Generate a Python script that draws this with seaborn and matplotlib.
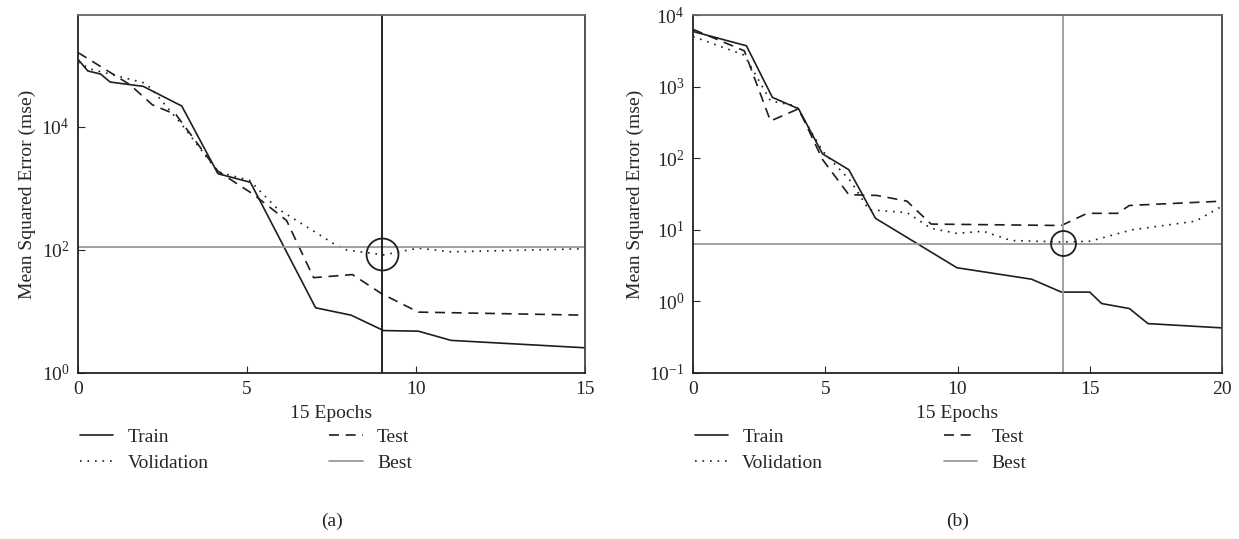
import matplotlib
matplotlib.use("Agg")
import matplotlib.pyplot as plt
import matplotlib.ticker as mticker
import seaborn as sns
import pandas as pd
import numpy as np

# panel (a) values (y given as log10 of mse)
a_train_x = [0, 0.29, 0.67, 0.95, 1.93, 3.07, 4.14, 5.1, 7.03, 8.08, 9.04, 10.07, 11.04, 15]
a_train_y = [5.10, 4.91, 4.86, 4.73, 4.66, 4.34, 3.24, 3.10, 1.06, 0.94, 0.69, 0.68, 0.53, 0.41]
a_test_x = [0, 1.53, 2.2, 2.9, 4.14, 5.2, 6.17, 6.97, 8.12, 8.98, 10.07, 15]
a_test_y = [5.21, 4.69, 4.36, 4.20, 3.28, 2.90, 2.48, 1.55, 1.60, 1.29, 0.99, 0.94]
a_val_x = [0, 0.38, 1.93, 2.16, 3.07, 4.14, 5.08, 5.88, 7.6, 7.95, 9.04, 10.07, 11.04, 15]
a_val_y = [5.05, 4.94, 4.72, 4.63, 4.04, 3.27, 3.13, 2.68, 2.09, 2.00, 1.92, 2.03, 1.97, 2.02]
a_best_epoch = 9
a_best_level = 2.05
a_best_val = 1.93

# panel (b) values
b_train_x = [0, 2.02, 3.0, 3.99, 4.9, 5.89, 6.9, 9.98, 12.8, 13.93, 15, 15.45, 16.5, 17.2, 20]
b_train_y = [3.77, 3.57, 2.85, 2.69, 2.06, 1.84, 1.16, 0.47, 0.31, 0.13, 0.13, -0.03, -0.10, -0.31, -0.37]
b_test_x = [0, 1.94, 2.93, 3.99, 4.9, 5.89, 6.95, 8.09, 9.0, 13.93, 14.9, 16.05, 16.5, 20]
b_test_y = [3.80, 3.50, 2.52, 2.69, 1.98, 1.49, 1.48, 1.40, 1.08, 1.06, 1.23, 1.23, 1.34, 1.40]
b_val_x = [0, 1.94, 2.93, 3.9, 4.9, 5.96, 6.65, 8.09, 9.0, 9.98, 10.97, 12.03, 13.93, 15, 16.6, 19.0, 20]
b_val_y = [3.70, 3.44, 2.80, 2.73, 2.10, 1.68, 1.28, 1.24, 1.02, 0.95, 0.98, 0.85, 0.83, 0.84, 1.00, 1.12, 1.33]
b_best_epoch = 14
b_best_level = 0.80
b_best_val = 0.81

sns.set_style("ticks")
plt.rcParams['font.family'] = ['Liberation Serif', 'DejaVu Serif']
plt.rcParams['mathtext.fontset'] = 'stix'
plt.rcParams['font.size'] = 14

line_col = '#1e1e1e'
best_col = '#9a9a9a'


def draw_panel(ax, tr, te, va, best_epoch, best_level, best_val, vline_col, circ_ms, xmax, ylim):
    df_tr = pd.DataFrame({'epoch': tr[0], 'mse': 10 ** np.array(tr[1])})
    df_te = pd.DataFrame({'epoch': te[0], 'mse': 10 ** np.array(te[1])})
    df_va = pd.DataFrame({'epoch': va[0], 'mse': 10 ** np.array(va[1])})
    sns.lineplot(data=df_tr, x='epoch', y='mse', ax=ax, color=line_col, lw=1.2, label='Train')
    sns.lineplot(data=df_va, x='epoch', y='mse', ax=ax, color=line_col, lw=1.2,
                 linestyle=(0, (1, 3.5)), label='Volidation')
    sns.lineplot(data=df_te, x='epoch', y='mse', ax=ax, color=line_col, lw=1.2,
                 linestyle=(0, (6, 4)), label='Test')
    ax.axhline(10 ** best_level, color=best_col, lw=1.3, label='Best')
    ax.axvline(best_epoch, color=vline_col, lw=1.3)
    ax.plot([best_epoch], [10 ** best_val], marker='o', ms=circ_ms, mfc='none',
            mec=line_col, mew=1.3, ls='none')
    ax.set_yscale('log')
    ax.set_xlim(0, xmax)
    ax.set_ylim(*ylim)
    ax.xaxis.set_major_locator(mticker.MultipleLocator(5))
    ax.yaxis.set_minor_locator(mticker.NullLocator())
    ax.tick_params(direction='in', length=5, labelsize=14, pad=6)
    for s in ax.spines.values():
        s.set_visible(True)
        s.set_linewidth(1.3)
        s.set_color('#222222')
    ax.spines['top'].set_color('#666666')
    ax.spines['right'].set_color('#444444')
    ax.set_xlabel('15 Epochs', fontsize=14, labelpad=5)
    ax.set_ylabel('Mean Squared Error (mse)', fontsize=14, labelpad=4)
    ax.legend(loc='upper left', bbox_to_anchor=(-0.03, -0.105), ncol=2, frameon=False,
              fontsize=14, handlelength=1.7, handletextpad=0.75, columnspacing=6.2,
              labelspacing=0.45)


fig = plt.figure(figsize=(12.39, 5.39), dpi=100)
H = 539.0
W = 1239.0
ax1 = fig.add_axes([78 / W, (H - 373) / H, 507 / W, 358 / H])
ax2 = fig.add_axes([693 / W, (H - 373) / H, 529 / W, 358 / H])

draw_panel(ax1, (a_train_x, a_train_y), (a_test_x, a_test_y), (a_val_x, a_val_y),
           a_best_epoch, a_best_level, a_best_val, '#111111', 23, 15, (1, 10 ** 5.82))
ax1.yaxis.set_major_locator(mticker.FixedLocator([1, 1e2, 1e4]))
ax1.yaxis.set_major_formatter(mticker.LogFormatterMathtext())

draw_panel(ax2, (b_train_x, b_train_y), (b_test_x, b_test_y), (b_val_x, b_val_y),
           b_best_epoch, b_best_level, b_best_val, best_col, 18, 20, (0.1, 1e4))
ax2.yaxis.set_major_locator(mticker.FixedLocator([0.1, 1, 10, 100, 1000, 1e4]))
ax2.yaxis.set_major_formatter(mticker.LogFormatterMathtext())

fig.text(332 / W, 1 - 521 / H, '(a)', ha='center', va='center', fontsize=14)
fig.text(958 / W, 1 - 521 / H, '(b)', ha='center', va='center', fontsize=14)

fig.savefig('out.png', dpi=100)
